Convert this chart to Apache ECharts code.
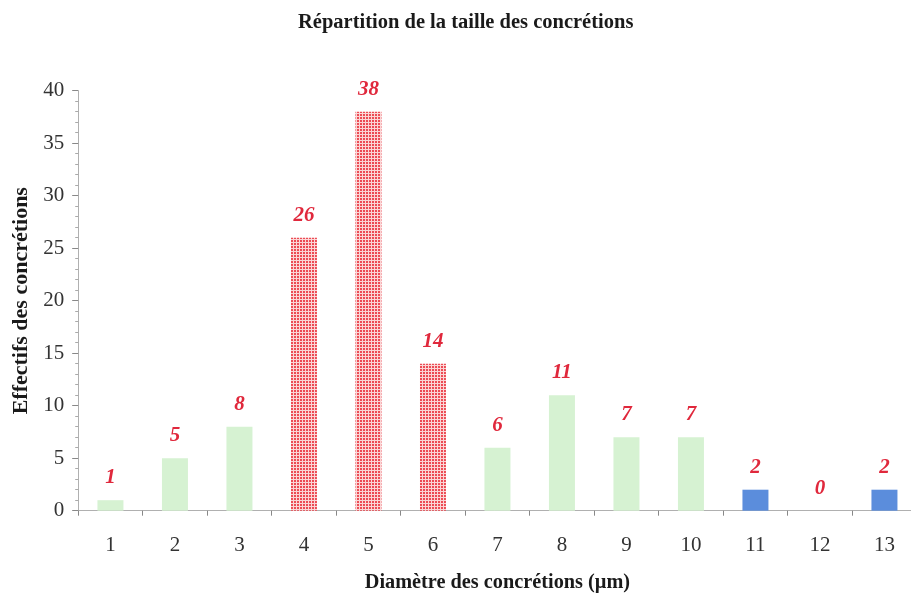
<!DOCTYPE html>
<html>
<head>
<meta charset="utf-8">
<script src="https://cdn.jsdelivr.net/npm/echarts@6/dist/echarts.min.js"></script>
<style>html,body{margin:0;padding:0;background:#fff}#c{width:911px;height:596px}</style>
</head>
<body>
<div id="c"></div>
<script>
const categories = ['1','2','3','4','5','6','7','8','9','10','11','12','13'];
const counts = [1, 5, 8, 26, 38, 14, 6, 11, 7, 7, 2, 0, 2];
const groups = ['g','g','g','r','r','r','g','g','g','g','b','b','b'];
const yTicks = [0, 5, 10, 15, 20, 25, 30, 35, 40];

const serif = '"Liberation Serif", "DejaVu Serif", serif';

// red dotted pattern
const tile = document.createElement('canvas');
tile.width = 3; tile.height = 3;
const tc = tile.getContext('2d');
tc.fillStyle = '#fbd6d6'; tc.fillRect(0,0,3,3);
tc.fillStyle = '#ec4c55'; tc.fillRect(0,0,2,2);

const colorOf = {
  g: '#d6f2d2',
  r: { image: tile, repeat: 'repeat' },
  b: '#5b8ddc'
};

const data = counts.map((v, i) => ({ value: v, itemStyle: { color: colorOf[groups[i]] } }));

const chart = echarts.init(document.getElementById('c'), null, { renderer: 'canvas' });
chart.setOption({
  animation: false,
  title: {
    text: 'Répartition de la taille des concrétions',
    left: 293, top: 7,
    textStyle: { fontFamily: serif, fontSize: 20.5, fontWeight: 'bold', color: '#1a1a1a' }
  },
  grid: { left: 78.2, width: 838.5, top: 90.7, bottom: 85.3, containLabel: false, outerBoundsMode: 'none' },
  xAxis: {
    type: 'category',
    data: categories,
    name: 'Diamètre des concrétions (µm)',
    nameLocation: 'middle',
    nameGap: 62,
    nameTextStyle: { fontFamily: serif, fontSize: 20.3, fontWeight: 'bold', color: '#1a1a1a' },
    axisLine: { lineStyle: { color: '#b0b0b0', width: 1 } },
    axisTick: { show: true, length: 5, lineStyle: { color: '#888' } },
    axisLabel: { fontFamily: serif, fontSize: 21, color: '#333', margin: 24 }
  },
  yAxis: {
    type: 'value',
    min: yTicks[0], max: yTicks[yTicks.length - 1], interval: 5,
    name: 'Effectifs des concrétions',
    nameLocation: 'middle',
    nameRotate: 90,
    nameGap: 45,
    nameTextStyle: { fontFamily: serif, fontSize: 22, fontWeight: 'bold', color: '#1a1a1a' },
    axisLine: { show: true, lineStyle: { color: '#b0b0b0', width: 1 } },
    axisTick: { show: true, length: 6, lineStyle: { color: '#888' } },
    minorTick: { show: true, splitNumber: 5, length: 3, lineStyle: { color: '#aaa' } },
    splitLine: { show: false },
    axisLabel: { fontFamily: serif, fontSize: 21, color: '#333', margin: 14 }
  },
  series: [{
    type: 'bar',
    data: data,
    barWidth: 26,
    label: {
      show: true, position: 'top', distance: 12,
      fontFamily: serif, fontSize: 21, fontStyle: 'italic', fontWeight: 'bold',
      color: '#e0283c'
    }
  }]
});
</script>
</body>
</html>
